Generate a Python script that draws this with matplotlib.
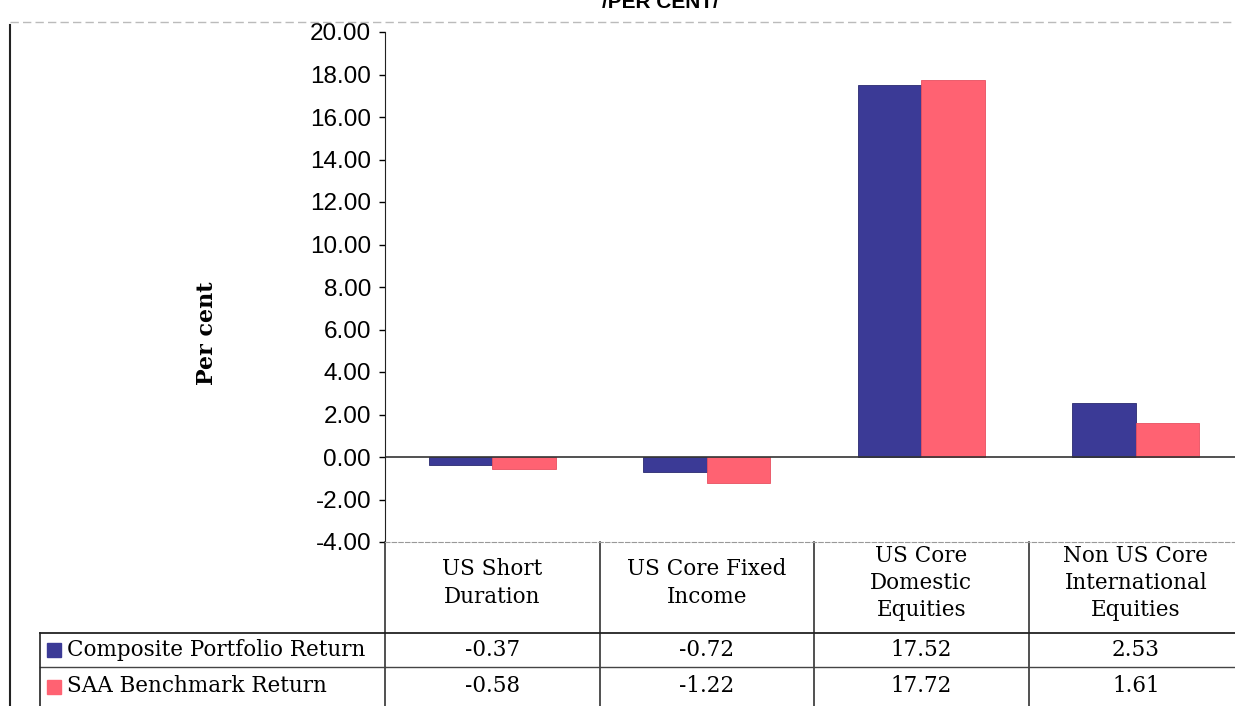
import numpy as np
import matplotlib.pyplot as plt
import matplotlib.transforms as mtransforms
from matplotlib.patches import Rectangle

categories = ["US Short\nDuration", "US Core Fixed\nIncome",
              "US Core\nDomestic\nEquities", "Non US Core\nInternational\nEquities"]
composite = [-0.37, -0.72, 17.52, 2.53]
saa = [-0.58, -1.22, 17.72, 1.61]
series_names = ["Composite Portfolio Return", "SAA Benchmark Return"]
yticks = np.arange(-4, 21, 2)

c_comp = "#3b3a96"
c_saa = "#ff6272"
W, H = 1235, 706
serif = ["DejaVu Serif"]

fig = plt.figure(figsize=(W / 100, H / 100), dpi=100)
ax = fig.add_axes([385 / W, 1 - 542 / H, 858 / W, 510 / H])

x = np.arange(len(categories))
bw = 0.295
ax.bar(x - bw / 2, composite, bw, color=c_comp, edgecolor="#2a2a70", lw=0.6)
ax.bar(x + bw / 2, saa, bw, color=c_saa, edgecolor="#e85060", lw=0.6)
ax.axhline(0, color="#333333", lw=1.2)

ax.set_xlim(-0.5, 3.5)
ax.set_ylim(-4, 20)
ax.set_yticks(yticks)
ax.set_yticklabels(["%.2f" % v for v in yticks], fontsize=17.5, family="Liberation Sans")
ax.set_xticks([])
ax.tick_params(axis="y", length=4, width=1, pad=6)
for s in ["top", "right"]:
    ax.spines[s].set_visible(False)
ax.spines["bottom"].set_color("#999999")
ax.spines["bottom"].set_linestyle((0, (4, 2)))
ax.spines["left"].set_color("#222222")

fig.text(207 / W, 1 - 333 / H, "Per cent", rotation=90, fontsize=16, fontweight="bold",
         family=serif, ha="center", va="center")

# title, cut at the top edge as in the scan
fig.text(660 / W, 1 - 8 / H, "/PER CENT/", fontsize=15, fontweight="bold",
         family="Liberation Sans", ha="center", va="baseline")

# frame lines
fig.add_artist(plt.Line2D([10 / W, 1], [1 - 22 / H, 1 - 22 / H], color="#bbbbbb",
                          lw=1, ls=(0, (6, 3))))
fig.add_artist(plt.Line2D([10 / W, 10 / W], [1 - 25 / H, 0], color="#222222", lw=1.5))

# data table under the axis
tr = mtransforms.blended_transform_factory(ax.transData, fig.transFigure)
y_head, y_r1, y_r2, y_bot = 1 - 542 / H, 1 - 633 / H, 1 - 667 / H, 0
for b in np.arange(len(categories) + 1) - 0.5:
    ax.plot([b, b], [y_head, y_bot], transform=tr, color="#222222", lw=1.1, clip_on=False)
ax.plot([-0.5, 3.6], [y_r1, y_r1], transform=tr, color="#222222", lw=1.3, clip_on=False)
ax.plot([-0.5, 3.6], [y_r2, y_r2], transform=tr, color="#444444", lw=1.0, clip_on=False)
fig.add_artist(plt.Line2D([40 / W, 385 / W], [y_r1, y_r1], color="#222222", lw=1.3))
fig.add_artist(plt.Line2D([40 / W, 385 / W], [y_r2, y_r2], color="#444444", lw=1.0))
fig.add_artist(plt.Line2D([40 / W, 40 / W], [y_r1, 0], color="#222222", lw=1.2))

for i, cat in enumerate(categories):
    ax.text(i, 1 - 583 / H, cat, transform=tr, ha="center", va="center", fontsize=15.5,
            family=serif, linespacing=1.3)
    ax.text(i, (y_r1 + y_r2) / 2, "%.2f" % composite[i], transform=tr, ha="center",
            va="center", fontsize=15.5, family=serif)
    ax.text(i, (y_r2 + y_bot) / 2, "%.2f" % saa[i], transform=tr, ha="center",
            va="center", fontsize=15.5, family=serif)

for name, col, yc in [(series_names[0], c_comp, (y_r1 + y_r2) / 2),
                      (series_names[1], c_saa, (y_r2 + y_bot) / 2)]:
    fig.add_artist(Rectangle((47 / W, yc - 7 / H), 14 / W, 14 / H, color=col,
                             transform=fig.transFigure))
    fig.text(67 / W, yc, name, ha="left", va="center", fontsize=15.5, family=serif)

fig.savefig("out.png", dpi=100)
